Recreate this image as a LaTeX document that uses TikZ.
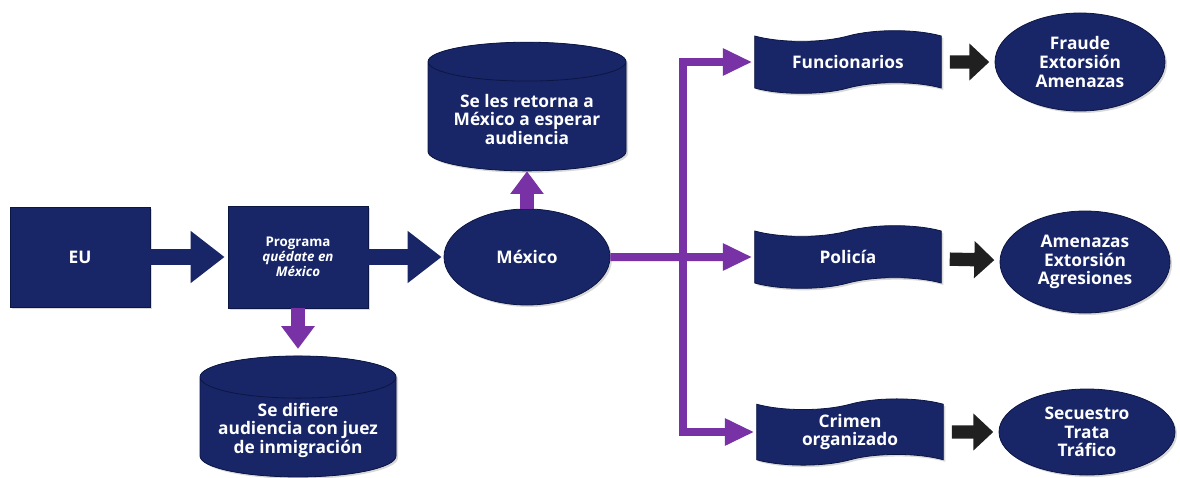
\documentclass[tikz,border=0pt]{standalone}
\usepackage{fontspec}
\newfontfamily\lblfont{Open Sans}
\usetikzlibrary{arrows.meta,shapes.geometric,shapes.symbols,shadows}
\definecolor{navy}{RGB}{24,38,104}
\definecolor{navyedge}{RGB}{12,22,66}
\definecolor{navytop}{RGB}{30,46,118}
\definecolor{purp}{RGB}{120,50,165}
\definecolor{blk}{RGB}{32,32,32}

\begin{document}
\begin{tikzpicture}[node distance=2cm,
    base/.style={fill=navy, draw=navyedge, line width=0.6pt, text=white, align=center,
        font=\lblfont\bfseries\fontsize{13}{14}\selectfont,
        drop shadow={opacity=0.3, shadow xshift=1.5pt, shadow yshift=-1.5pt}},
    box/.style={base, rectangle, minimum width=105pt, minimum height=75pt},
    oval/.style={base, ellipse, inner sep=0pt},
    drum/.style={base, cylinder, shape border rotate=90, aspect=0.25,
        cylinder uses custom fill, cylinder body fill=navy, cylinder end fill=navytop},
    wave/.style={base, tape, tape bend top=in and out, tape bend bottom=in and out,
        tape bend height=8pt, minimum width=140pt, minimum height=47pt},
    bluearr/.style={draw=navy, line width=12pt, -{Triangle[length=25.5pt,width=37.5pt]}},
    purparr/.style={draw=purp, line width=10pt, -{Triangle[length=17pt,width=24pt]}},
    purpline/.style={draw=purp, line width=6pt, line join=miter, -{Triangle[length=22pt,width=19pt]}},
    blkarr/.style={draw=blk, line width=10pt, -{Triangle[length=15pt,width=27pt]}}]

    \node[box] (eu) {EU};
    \node[box, minimum height=76.5pt, font=\lblfont\bfseries\fontsize{10}{11.25}\selectfont]
        (prog) [right of=eu, node distance=163.5pt]
        {Programa\\\textit{quédate en}\\\textit{México}};
    \node[drum, minimum width=147pt, minimum height=90pt] (dif) [below of=prog, node distance=130pt]
        {Se difiere\\audiencia con juez\\de inmigración};
    \node[oval, minimum width=124.5pt, minimum height=72pt] (mex) [right of=prog, node distance=171.75pt] {México};
    \node[drum, minimum width=148.5pt, minimum height=96.5pt] (ret) [above of=mex, node distance=103.25pt]
        {Se les retorna a\\México a esperar\\audiencia};
    \coordinate[right of=mex, node distance=117pt] (jn);

    \node[wave] (pol) [right of=mex, node distance=240.75pt] {Policía};
    \node[wave] (func) [above of=pol, node distance=146.25pt] {Funcionarios};
    \node[wave] (crim) [below of=pol, node distance=131.25pt, xshift=1.5pt] {Crimen\\organizado};

    \node[oval, minimum width=127.5pt, minimum height=73.5pt] (fra) [right of=func, node distance=174pt]
        {Fraude\\Extorsión\\Amenazas};
    \node[oval, minimum width=127.5pt, minimum height=76.5pt] (ame) [right of=pol, node distance=177.75pt, yshift=-3.75pt]
        {Amenazas\\Extorsión\\Agresiones};
    \node[oval, minimum width=132pt, minimum height=64.5pt] (sec) [right of=crim, node distance=177.75pt]
        {Secuestro\\Trata\\Tráfico};

    \path (eu) edge[bluearr, shorten >=2.25pt] (prog)
        (prog) edge[bluearr, shorten >=1.5pt] (mex)
        (prog) edge[purparr, shorten >=5pt] (dif)
        (mex) edge[purparr] (ret)
        (func) edge[blkarr, shorten <=6pt, shorten >=4pt] (fra)
        (pol) edge[blkarr, shorten <=6pt, shorten >=4pt] (ame)
        (crim) edge[blkarr, shorten <=6pt, shorten >=4pt] (sec);

    \draw[purpline, shorten >=1.5pt] (mex) -- (pol);
    \draw[purpline, shorten >=1.5pt] (jn) |- (func);
    \draw[purpline, shorten >=1.5pt] (jn) |- (crim);

    \useasboundingbox ([xshift=-60pt, yshift=192.75pt]eu.center) rectangle ++(885pt,-357.75pt);
\end{tikzpicture}
\end{document}
